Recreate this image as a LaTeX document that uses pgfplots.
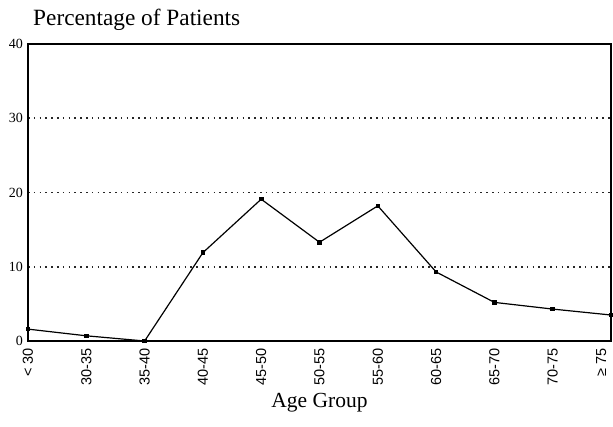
\documentclass[border=0pt]{standalone}
\usepackage{fontspec}
\setmainfont{Liberation Serif}
\setsansfont{Liberation Sans}
\usepackage{pgfplots}
\pgfplotsset{compat=1.18}
\begin{document}
\begin{tikzpicture}
\begin{axis}[
  scale only axis,
  width=583pt, height=297pt,
  xmin=0, xmax=10, ymin=0, ymax=40,
  xtick={0,1,2,3,4,5,6,7,8,9},
  xticklabels={< 30,30-35,35-40,40-45,45-50,50-55,55-60,60-65,65-70,70-75},
  extra x ticks={9.83},
  extra x tick labels={≥ 75},
  x tick label style={rotate=90, anchor=east, font=\sffamily\fontsize{14.5}{15}\selectfont, inner sep=0pt, xshift=-7pt},
  ytick={0,10,20,30,40},
  y tick label style={font=\fontsize{14}{15}\selectfont, inner sep=0pt, xshift=-5pt},
  /pgf/number format/assume math mode=true,
  major tick length=0pt,
  axis line style={line width=1.2pt},
  ymajorgrids,
  grid style={dash pattern=on 1.6pt off 4.2pt, line width=1.6pt, black!85},
  extra x tick style={grid=none},
  xlabel={Age Group},
  xlabel style={font=\fontsize{21.5}{22}\selectfont, anchor=base, at={(axis description cs:0.5,0)}, yshift=-66pt},
  clip=false,
]
\addplot[black, line width=1.2pt, mark=square*, mark size=1.7pt] coordinates {
(0,1.6) (1,0.7) (2,0) (3,11.9) (4,19.1) (5,13.3) (6,18.2) (7,9.3) (8,5.2) (9,4.3) (10,3.5)
};
\node[anchor=base west, font=\fontsize{23.3}{24}\selectfont, inner sep=0pt] at ([xshift=5pt, yshift=19pt]rel axis cs:0,1) {Percentage of Patients};
\end{axis}
\pgfresetboundingbox
\path ([xshift=-28pt, yshift=-85pt]current axis.south west) rectangle ([xshift=2pt, yshift=44pt]current axis.north east);
\end{tikzpicture}
\end{document}
